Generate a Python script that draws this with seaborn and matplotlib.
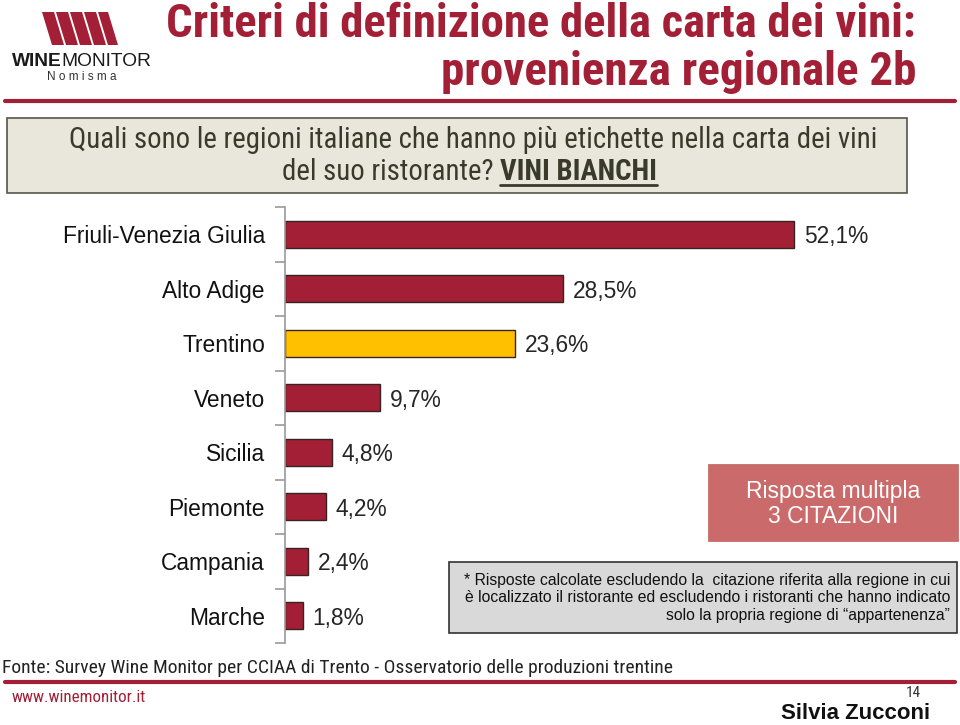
import matplotlib
matplotlib.use("Agg")
import matplotlib.pyplot as plt
from matplotlib import font_manager as fm
import seaborn as sns
import pandas as pd
from matplotlib.patches import Rectangle, Polygon

regions = ["Friuli-Venezia Giulia", "Alto Adige", "Trentino", "Veneto",
           "Sicilia", "Piemonte", "Campania", "Marche"]
values = [52.1, 28.5, 23.6, 9.7, 4.8, 4.2, 2.4, 1.8]
value_labels = ["52,1%", "28,5%", "23,6%", "9,7%", "4,8%", "4,2%", "2,4%", "1,8%"]
highlight = "Trentino"

RED = "#A21F35"
YEL = "#FFC000"

sns.set_theme(style="white")
plt.rcParams["font.family"] = ["Liberation Sans", "DejaVu Sans"]

available = {f.name for f in fm.fontManager.ttflist}
narrow_pref = ["Liberation Sans Narrow", "Arial Narrow", "Roboto Condensed",
               "Archivo Narrow", "PT Sans Narrow", "Fira Sans Condensed",
               "IBM Plex Sans Condensed", "Encode Sans Condensed",
               "Pragati Narrow"]
NARROW = [n for n in narrow_pref if n in available][:1] + ["Liberation Sans", "DejaVu Sans"]

W, H = 960, 725
fig = plt.figure(figsize=(9.6, 7.25), dpi=100)
renderer = fig.canvas.get_renderer()


def fx(x):
    return x / W


def fy(y):
    return 1 - y / H


def width_px(t):
    return t.get_window_extent(renderer=renderer).width


def fit(t, target):
    for _ in range(3):
        w = width_px(t)
        if w > 0:
            t.set_fontsize(t.get_fontsize() * target / w)
    return t


df = pd.DataFrame({"region": regions, "value": values})
palette = {r: (YEL if r == highlight else RED) for r in regions}

ax = fig.add_axes([fx(285), fy(643), (871 - 285) / W, (643 - 207) / H])
sns.barplot(data=df, y="region", x="value", hue="region", palette=palette,
            order=regions, orient="h", width=0.5, edgecolor="#3a2222",
            linewidth=1.0, saturation=1, legend=False, ax=ax)
ax.set_xlim(0, 60)
ax.set_ylim(len(regions) - 0.5, -0.5)
ax.set_xlabel("")
ax.set_ylabel("")
ax.set_xticks([])
for s in ["top", "right", "bottom"]:
    ax.spines[s].set_visible(False)
ax.spines["left"].set_color("#9a9a9a")
ax.spines["left"].set_linewidth(1.2)
ax.set_yticks(range(len(regions)))
ax.set_yticklabels(regions, fontsize=16.4, color="#111111")
ax.tick_params(axis="y", which="major", left=False, length=0, pad=14.4)
ax.set_yticks([i - 0.5 for i in range(len(regions) + 1)], minor=True)
ax.tick_params(axis="y", which="minor", left=True, length=7, width=1.2,
               color="#9a9a9a", direction="out")
ax.patch.set_alpha(0)

for i, (v, lab) in enumerate(zip(values, value_labels)):
    ax.text(v + 1.0, i + 0.05, lab, va="center", ha="left", fontsize=16.4,
            color="#262626")

# Title
t = fig.text(fx(916), fy(24), "Criteri di definizione della carta dei vini:",
             ha="right", va="center", fontsize=30, color=RED, family=NARROW,
             fontweight="bold")
fit(t, 750)
t = fig.text(fx(916), fy(72), "provenienza regionale 2b",
             ha="right", va="center", fontsize=30, color=RED, family=NARROW,
             fontweight="bold")
fit(t, 475)
fig.add_artist(plt.Line2D([fx(5), fx(955)], [fy(101), fy(101)], color=RED,
                          lw=3, transform=fig.transFigure))

# Logo
logo_polys = [
    [(42, 12), (54, 12), (64, 45), (52, 45)],
    [(56, 12), (68, 12), (78, 45), (66, 45)],
    [(70, 12), (82, 12), (92, 45), (80, 45)],
    [(84, 12), (96, 12), (106, 45), (94, 45)],
    [(98, 12), (108, 12), (118, 45), (108, 45)],
]
for poly in logo_polys:
    fig.add_artist(Polygon([(fx(a), fy(b)) for a, b in poly], closed=True,
                           facecolor=RED, edgecolor="none",
                           transform=fig.transFigure))
tw = fig.text(fx(12), fy(61), "WINE", ha="left", va="center", fontsize=15,
              fontweight="bold", color="#1a1a1a")
tm = fig.text(fx(12), fy(61), "MONITOR", ha="left", va="center", fontsize=15,
              color="#1a1a1a")
tot = width_px(tw) + width_px(tm)
scale = 140 / tot
tw.set_fontsize(15 * scale)
tm.set_fontsize(15 * scale)
tm.set_x(fx(12 + width_px(tw)))
fig.text(fx(82), fy(77), "N o m i s m a", ha="center", va="center",
         fontsize=8.5, color="#333333")

# Question box
fig.add_artist(Rectangle((fx(7), fy(193)), (907 - 7) / W, (193 - 118) / H,
                         facecolor="#E9E7DB", edgecolor="#55554a", lw=1.2,
                         transform=fig.transFigure))
q1 = fig.text(fx(473), fy(140),
              "Quali sono le regioni italiane che hanno più etichette nella carta dei vini",
              ha="center", va="center", fontsize=17, color="#3a3a2a",
              family=NARROW)
fit(q1, 806)
qs = q1.get_fontsize()
q2a = fig.text(0, fy(172), "del suo ristorante? ", ha="left", va="center",
               fontsize=qs, color="#3a3a2a", family=NARROW)
q2b = fig.text(0, fy(172), "VINI BIANCHI", ha="left", va="center",
               fontsize=qs, color="#3a3a2a", fontweight="bold", family=NARROW)
wa, wb = width_px(q2a), width_px(q2b)
x0 = 469.5 - (wa + wb) / 2
q2a.set_x(fx(x0))
q2b.set_x(fx(x0 + wa))
fig.add_artist(plt.Line2D([fx(x0 + wa), fx(x0 + wa + wb)], [fy(185), fy(185)],
                          color="#3a3a2a", lw=2, transform=fig.transFigure))

# Risposta multipla box
fig.add_artist(Rectangle((fx(708), fy(541)), (958 - 708) / W, (541 - 464) / H,
                         facecolor="#CB6A6A", edgecolor="#c06060", lw=0.5,
                         transform=fig.transFigure))
fig.text(fx(833), fy(504), "Risposta multipla\n3 CITAZIONI", ha="center",
         va="center", fontsize=16.5, color="white", linespacing=1.1)

# Footnote box
fig.add_artist(Rectangle((fx(449), fy(633)), (957 - 449) / W, (633 - 562) / H,
                         facecolor="#D9D9D9", edgecolor="#333333", lw=1.2,
                         transform=fig.transFigure))
fig.text(fx(950), fy(598),
         "* Risposte calcolate escludendo la  citazione riferita alla regione in cui\n"
         "è localizzato il ristorante ed escludendo i ristoranti che hanno indicato\n"
         "solo la propria regione di \u201cappartenenza\u201d",
         ha="right", va="center", fontsize=11.3, color="#111111",
         multialignment="right", linespacing=1.2)

# Footer
tf = fig.text(fx(2), fy(668),
              "Fonte: Survey Wine Monitor per CCIAA di Trento - Osservatorio delle produzioni trentine",
              ha="left", va="center", fontsize=13.5, color="#222222",
              family=NARROW)
fit(tf, 663)
fig.add_artist(plt.Line2D([fx(5), fx(955)], [fy(682), fy(682)], color=RED,
                          lw=3, transform=fig.transFigure))
tww = fig.text(fx(12), fy(698), "www.winemonitor.it", ha="left", va="center",
               fontsize=10, color=RED, family=NARROW)
fit(tww, 135)
fig.text(fx(921), fy(697), "14", ha="right", va="baseline", fontsize=11,
         color="#333333", family=NARROW)
fig.text(fx(930), fy(719), "Silvia Zucconi", ha="right", va="baseline",
         fontsize=16, fontweight="bold", color="#111111")

fig.savefig("out.png", dpi=100)
